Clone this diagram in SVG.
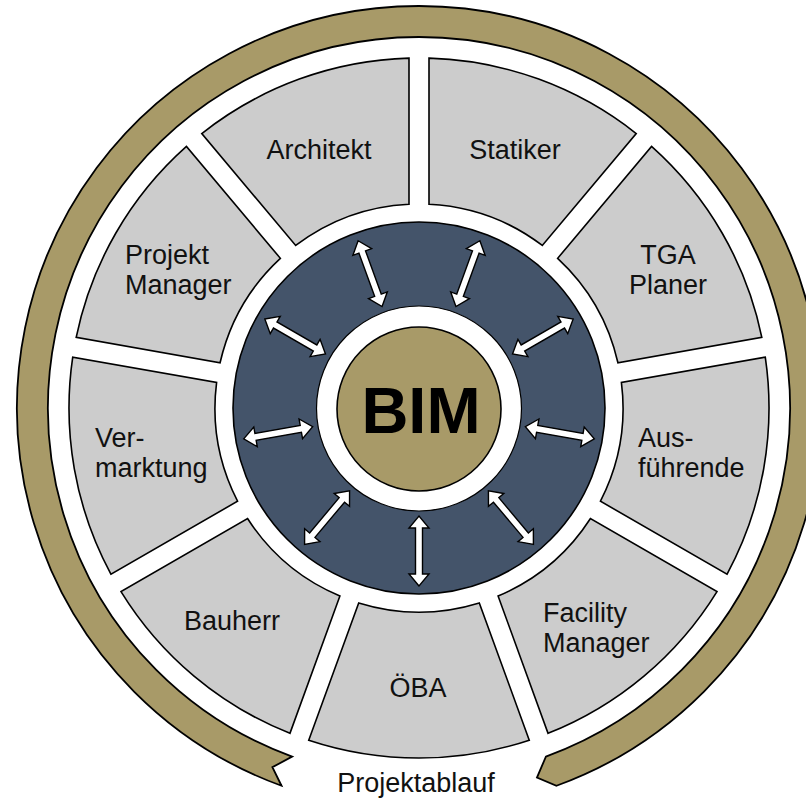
<svg xmlns="http://www.w3.org/2000/svg" xmlns:xlink="http://www.w3.org/1999/xlink" width="806" height="801" viewBox="0 0 806 801">
  <style>
    .seg { fill: #CCCCCC; stroke: #000; stroke-width: 1.6; stroke-linejoin: miter; }
    .lbl { font-family: "Liberation Sans", Arial, sans-serif; font-size: 27px; fill: #111; }
    .mid { text-anchor: middle; }
    .arr { fill: #FFFFFF; stroke: #000; stroke-width: 1.4; stroke-linejoin: miter; }
  </style>
  <defs>
    <path id="seg" d="M 308.74 75.82 A 350 350 0 0 1 529.26 75.82 L 479.29 213.11 A 204 204 0 0 0 358.71 213.11 Z"/>
    <polygon id="arrow" points="419,230 429,242 422.5,242 422.5,288 429,288 419,300 409,288 415.5,288 415.5,242 409,242"/>
  </defs>
  <rect width="806" height="801" fill="#FFFFFF"/>

  <g id="projektablauf">
    <path d="M 292.11 756.63 A 371 371 0 1 1 545.89 756.63 L 536.96 777.63 L 556.49 785.76 A 402 402 0 1 0 281.51 785.76 L 272.4 767.24 Z" fill="#A89A68" stroke="#000" stroke-width="1.8" stroke-linejoin="miter"/>
    <text class="lbl mid" x="416" y="792" font-size="28">Projektablauf</text>
  </g>

  <g id="architekt">
    <use xlink:href="#seg" href="#seg" class="seg" transform="rotate(340 419 408)"/>
    <text class="lbl mid" x="319" y="159">Architekt</text>
  </g>
  <g id="statiker">
    <use xlink:href="#seg" href="#seg" class="seg" transform="rotate(20 419 408)"/>
    <text class="lbl mid" x="515" y="159">Statiker</text>
  </g>
  <g id="tga-planer">
    <use xlink:href="#seg" href="#seg" class="seg" transform="rotate(60 419 408)"/>
    <text class="lbl mid" x="668" y="264">TGA</text>
    <text class="lbl mid" x="668" y="294">Planer</text>
  </g>
  <g id="ausfuehrende">
    <use xlink:href="#seg" href="#seg" class="seg" transform="rotate(100 419 408)"/>
    <text class="lbl" x="638" y="447">Aus-</text>
    <text class="lbl" x="638" y="477">führende</text>
  </g>
  <g id="facility-manager">
    <use xlink:href="#seg" href="#seg" class="seg" transform="rotate(140 419 408)"/>
    <text class="lbl" x="543" y="622">Facility</text>
    <text class="lbl" x="543" y="652">Manager</text>
  </g>
  <g id="oeba">
    <use xlink:href="#seg" href="#seg" class="seg" transform="rotate(180 419 408)"/>
    <text class="lbl mid" x="418" y="697">ÖBA</text>
  </g>
  <g id="bauherr">
    <use xlink:href="#seg" href="#seg" class="seg" transform="rotate(220 419 408)"/>
    <text class="lbl mid" x="232" y="630">Bauherr</text>
  </g>
  <g id="vermarktung">
    <use xlink:href="#seg" href="#seg" class="seg" transform="rotate(260 419 408)"/>
    <text class="lbl" x="95" y="447">Ver-</text>
    <text class="lbl" x="95" y="477">marktung</text>
  </g>
  <g id="projekt-manager">
    <use xlink:href="#seg" href="#seg" class="seg" transform="rotate(300 419 408)"/>
    <text class="lbl" x="125" y="264">Projekt</text>
    <text class="lbl" x="125" y="294">Manager</text>
  </g>

  <g id="bim-ring">
    <circle cx="419" cy="408" r="186" fill="#44546A" stroke="#000" stroke-width="1.6"/>
  </g>

  <g id="connectors">
    <use xlink:href="#arrow" href="#arrow" class="arr" transform="rotate(340 419 408)"/>
    <use xlink:href="#arrow" href="#arrow" class="arr" transform="rotate(20 419 408)"/>
    <use xlink:href="#arrow" href="#arrow" class="arr" transform="rotate(60 419 408)"/>
    <use xlink:href="#arrow" href="#arrow" class="arr" transform="rotate(100 419 408)"/>
    <use xlink:href="#arrow" href="#arrow" class="arr" transform="rotate(140 419 408)"/>
    <use xlink:href="#arrow" href="#arrow" class="arr" transform="rotate(180 419 408)"/>
    <use xlink:href="#arrow" href="#arrow" class="arr" transform="rotate(220 419 408)"/>
    <use xlink:href="#arrow" href="#arrow" class="arr" transform="rotate(260 419 408)"/>
    <use xlink:href="#arrow" href="#arrow" class="arr" transform="rotate(300 419 408)"/>
  </g>

  <g id="bim">
    <circle cx="419" cy="408.5" r="102.5" fill="#FFFFFF" stroke="#000" stroke-width="1.2"/>
    <circle cx="419" cy="409" r="82" fill="#A89A68" stroke="#000" stroke-width="1.6"/>
    <text x="421" y="433" text-anchor="middle" font-family="'Liberation Sans', Arial, sans-serif" font-size="65" font-weight="bold" fill="#000">BIM</text>
  </g>
</svg>
